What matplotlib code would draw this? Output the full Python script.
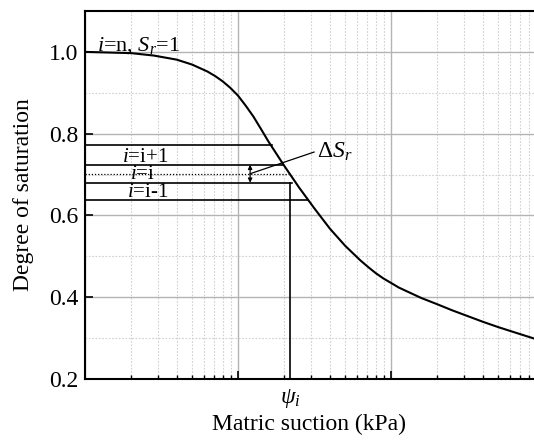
import matplotlib
matplotlib.use('Agg')
import matplotlib.pyplot as plt
from matplotlib.ticker import LogLocator, MultipleLocator, NullFormatter
import numpy as np

plt.rcParams['font.family'] = ['Liberation Serif', 'DejaVu Serif']
plt.rcParams['mathtext.fontset'] = 'custom'
plt.rcParams['mathtext.rm'] = 'Liberation Serif'
plt.rcParams['mathtext.it'] = 'Liberation Serif:italic'

# SWCC (kPa, degree of saturation)
suction = [1.0, 2.0, 2.82, 3.98, 5.01, 6.31, 7.08, 7.94, 8.91, 10.0, 11.2,
           12.6, 14.1, 15.8, 20.0, 25.1, 31.6, 39.8, 50.1, 63.1, 70.8, 79.4,
           89.1, 100, 112, 126, 158, 200, 251, 316, 398, 501, 631, 860]
saturation = [1.000, 0.997, 0.991, 0.981, 0.969, 0.952, 0.941, 0.928, 0.912,
              0.893, 0.869, 0.842, 0.812, 0.781, 0.722, 0.668, 0.617, 0.568,
              0.526, 0.490, 0.474, 0.459, 0.446, 0.435, 0.424, 0.415, 0.398,
              0.383, 0.368, 0.354, 0.340, 0.327, 0.315, 0.299]

# horizontal level lines: S value, end suction, dotted or not
level_s = [0.772, 0.724, 0.702, 0.680, 0.637]
level_end = [16.8, 19.8, 21.5, 22.4, 28.5]
level_dotted = [False, False, True, False, False]
level_names = [r'$i$=i+1', r'$i$=i', r'$i$=i-1']
level_name_x = [2.47, 2.36, 2.56]
level_name_y = [0.731, 0.689, 0.645]

psi_i = 21.9
ds_arrow_x = 12.0

fig = plt.figure(figsize=(5.34, 4.42), dpi=100)
ax = fig.add_axes([85 / 534, 63 / 442, 449 / 534, 368 / 442])

ax.plot(suction, saturation, color='black', lw=1.5, zorder=5)

for s, xe, dot in zip(level_s, level_end, level_dotted):
    if dot:
        ax.plot([1.0, xe], [s, s], color='black', lw=0.9, ls=(0, (1, 1.5)), zorder=4)
    else:
        ax.plot([1.0, xe], [s, s], color='black', lw=1.2, zorder=4)

for name, xn, yn in zip(level_names, level_name_x, level_name_y):
    ax.text(xn, yn, name, fontsize=15, ha='center', va='baseline', zorder=6)

# psi_i vertical
ax.plot([psi_i, psi_i], [0.2, level_s[3]], color='black', lw=1.2, zorder=4)

# delta S arrow + leader
ax.annotate('', xy=(ds_arrow_x, level_s[1]), xytext=(ds_arrow_x, level_s[3]),
            arrowprops=dict(arrowstyle='<|-|>', color='black', lw=0.9,
                            mutation_scale=6, shrinkA=0, shrinkB=0), zorder=6)
ax.plot([ds_arrow_x, 31.4], [0.702, 0.755], color='black', lw=0.9, zorder=6)
ax.text(33.0, 0.741, r'$\mathit{Δ}S_r$', fontsize=17, ha='left', va='baseline')

ax.text(1.2, 1.004, r'$i$=n, $S_r$=1', fontsize=16, ha='left', va='baseline')

ax.set_xscale('log')
ax.set_xlim(1, 860)
ax.set_ylim(0.2, 1.1)

ax.xaxis.set_major_locator(LogLocator(base=10))
ax.xaxis.set_minor_locator(LogLocator(base=10, subs=np.arange(2, 10)))
ax.xaxis.set_major_formatter(NullFormatter())
ax.xaxis.set_minor_formatter(NullFormatter())
ax.yaxis.set_minor_locator(MultipleLocator(0.1))
ax.set_yticks([0.2, 0.4, 0.6, 0.8, 1.0])
ax.set_yticklabels(['0.2', '0.4', '0.6', '0.8', '1.0'])

ax.grid(True, which='major', color='#b4b4b4', lw=1.0, ls='-')
ax.grid(True, which='minor', color='#d0d0d0', lw=0.8, ls=(0, (1.5, 1.5)))
ax.set_axisbelow(True)

ax.tick_params(axis='both', which='major', direction='in', length=6, width=1.2,
               labelsize=17, pad=5, top=False, right=False)
ax.tick_params(axis='x', which='minor', direction='in', length=3, width=1.0, top=False)
ax.tick_params(axis='y', which='minor', length=0)

for side in ['left', 'bottom', 'top']:
    ax.spines[side].set_linewidth(1.5)
ax.spines['right'].set_visible(False)

ax.text(psi_i, -0.053, r'$\psi_i$', fontsize=17, ha='center', va='center',
        transform=ax.get_xaxis_transform())

ax.set_xlabel('Matric suction (kPa)', fontsize=17)
ax.xaxis.set_label_coords(0.5, -0.095)
ax.set_ylabel('Degree of saturation', fontsize=17)
ax.yaxis.set_label_coords(-0.114, 0.5)

fig.savefig('out.png', dpi=100)
